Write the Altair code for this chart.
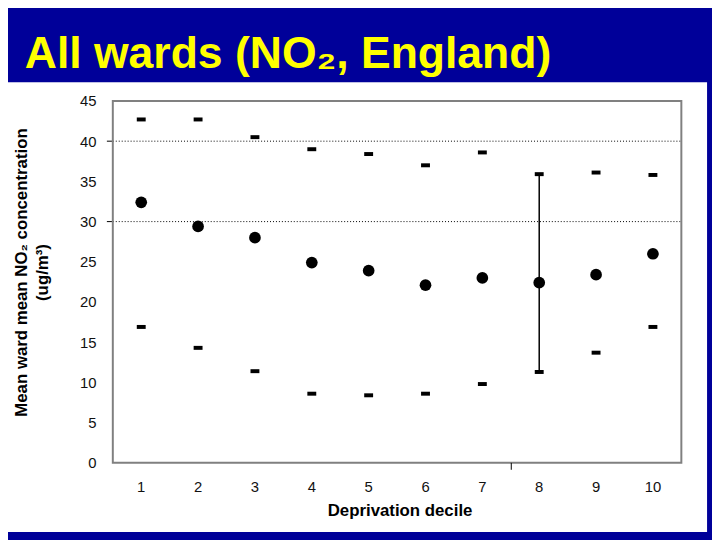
import altair as alt
import pandas as pd

# ---- data ----
deciles = [1, 2, 3, 4, 5, 6, 7, 8, 9, 10]
mean_no2 = [32.4, 29.4, 28.0, 24.9, 23.9, 22.1, 23.0, 22.4, 23.4, 26.0]
upper_no2 = [42.7, 42.7, 40.5, 39.0, 38.4, 37.0, 38.6, 35.9, 36.1, 35.8]
lower_no2 = [16.9, 14.3, 11.4, 8.6, 8.4, 8.6, 9.8, 11.3, 13.7, 16.9]
errorbar_deciles = [8]
grid_values = [30, 40]
y_tick_values = [0, 5, 10, 15, 20, 25, 30, 35, 40, 45]

title_text = "All wards (NO₂, England)"
x_title = "Deprivation decile"
y_title = ["Mean ward mean NO₂ concentration", "(ug/m³)"]

# ---- styling ----
BLUE = "#000099"
FONT = "Liberation Sans"
W, H = 575, 366
# page has an 8px margin: the chart starts at page (8, 8)
OFF = 8
PAGE_L, PAGE_T = 114, 99          # plot-area origin on the page
PAD_L, PAD_T = PAGE_L - OFF, PAGE_T - OFF
PAD_R = 712 - PAD_L - W
PAD_B = 532 - PAD_T - H

df = pd.DataFrame({"decile": deciles, "mean": mean_no2,
                   "upper": upper_no2, "lower": lower_no2})
eb_df = df[df["decile"].isin(errorbar_deciles)]
grid_df = pd.DataFrame({"v": grid_values})
one = pd.DataFrame({"t": [title_text]})

x_scale = alt.Scale(domain=deciles, paddingInner=0, paddingOuter=0)
y_scale = alt.Scale(domain=[0, 45], nice=False)

x_axis = alt.Axis(title=x_title, labelAngle=0, ticks=False, domain=False, grid=False,
                  labelPadding=17, labelFontSize=15, labelColor="#111111", labelFont=FONT,
                  titleFont=FONT, titleFontSize=17, titleFontWeight="bold", titleColor="black",
                  titleX=290, titleY=53, titleBaseline="alphabetic", titleAlign="center",
                  zindex=2)
y_axis = alt.Axis(title=y_title, values=y_tick_values, ticks=False, domain=False, grid=False,
                  labelPadding=17, labelFontSize=15, labelColor="#111111", labelFont=FONT,
                  titleFont=FONT, titleFontSize=17, titleFontWeight="bold", titleColor="black",
                  titleAngle=270, titleX=-100, titleY=173, titleBaseline="top",
                  titleAlign="center", titleLineHeight=21, zindex=2)

X = lambda: alt.X("decile:O", scale=x_scale, axis=x_axis)
Yf = lambda f: alt.Y(f"{f}:Q", scale=y_scale, axis=y_axis)

panel = alt.Chart(one).mark_rect(color="white").encode(
    x=alt.value(5 - PAGE_L), x2=alt.value(715 - PAGE_L),
    y=alt.value(80 - PAGE_T), y2=alt.value(535 - PAGE_T))

title = alt.Chart(one).mark_text(align="left", baseline="alphabetic", font=FONT,
                                 fontSize=45, fontWeight="bold", color="#FFFF00").encode(
    text="t:N", x=alt.value(25 - PAGE_L), y=alt.value(66 - PAGE_T))

grid = alt.Chart(grid_df).mark_rule(color="black", strokeDash=[1, 2], strokeWidth=1).encode(
    y=Yf("v"), x=alt.value(0), x2=alt.value(W))

yticks = alt.Chart(grid_df).mark_rule(color="black", strokeWidth=1).encode(
    y=Yf("v"), x=alt.value(-6), x2=alt.value(0))

frame = alt.Chart(one).mark_rect(filled=False, stroke="#808080", strokeWidth=2).encode(
    x=alt.value(0), x2=alt.value(W), y=alt.value(0), y2=alt.value(H))

stray = alt.Chart(one).mark_rule(color="black", strokeWidth=1).encode(
    x=alt.value(403), y=alt.value(H), y2=alt.value(H + 7))

errbar = alt.Chart(eb_df).mark_rule(color="black", strokeWidth=1.5).encode(
    x=X(), y=Yf("lower"), y2="upper:Q")

up = alt.Chart(df).mark_tick(color="black", size=9, thickness=4, opacity=1).encode(
    x=X(), y=Yf("upper"))
low = alt.Chart(df).mark_tick(color="black", size=9, thickness=4, opacity=1).encode(
    x=X(), y=Yf("lower"))
pts = alt.Chart(df).mark_circle(color="black", size=140, opacity=1).encode(
    x=X(), y=Yf("mean"))

chart = alt.layer(panel, title, grid, yticks, frame, stray, errbar, up, low, pts).properties(
    width=W, height=H, background=BLUE,
    padding={"left": PAD_L, "top": PAD_T, "right": PAD_R, "bottom": PAD_B},
    autosize=alt.AutoSizeParams(type="none"),
).configure_view(stroke=None)

chart.save("out.html", embed_options={"renderer": "svg", "actions": False})
